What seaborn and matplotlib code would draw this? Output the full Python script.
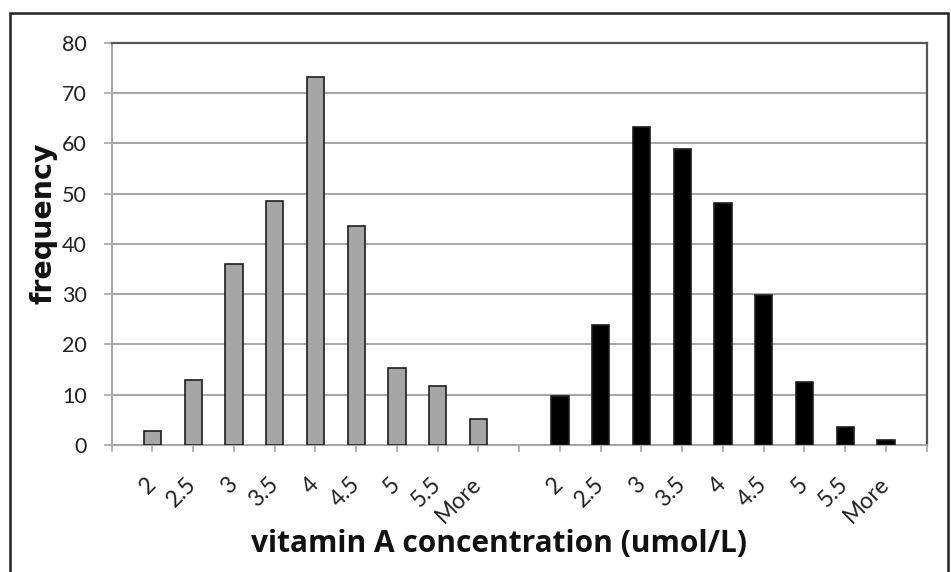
import matplotlib
matplotlib.use("Agg")
import matplotlib.pyplot as plt
import seaborn as sns
import pandas as pd
from matplotlib.patches import Rectangle

# ---- data ----
bins = ["2", "2.5", "3", "3.5", "4", "4.5", "5", "5.5", "More"]
group_a = [2.7, 12.9, 35.9, 48.6, 73.1, 43.6, 15.4, 11.7, 5.2]   # gray
group_b = [9.8, 23.8, 63.2, 58.8, 48.2, 29.9, 12.5, 3.5, 1.0]    # black
group_names = ["A", "B"]
y_ticks = [0, 10, 20, 30, 40, 50, 60, 70, 80]

# positions: empty slot 0, bars 1..9, empty slot 10, bars 11..19, axis end 20
pos_a = list(range(1, 10))
pos_b = list(range(11, 20))
df = pd.DataFrame({
    "pos": pos_a + pos_b,
    "value": group_a + group_b,
    "group": [group_names[0]] * len(group_a) + [group_names[1]] * len(group_b),
})

sns.set_style("white")
plt.rcParams["font.family"] = ["Lato", "DejaVu Sans"]

fig = plt.figure(figsize=(9.51, 5.72), dpi=100)
W, H = 951, 572
ax = fig.add_axes([111.7 / W, (H - 445) / H, 815 / W, 402.3 / H])

grid_c = "#a6a6a6"
sns.barplot(data=df, x="pos", y="value", hue="group", native_scale=True,
            dodge=False, palette={"A": "#a6a6a6", "B": "#000000"},
            width=0.42, edgecolor="#1e1e1e", linewidth=1.2,
            legend=False, ax=ax, zorder=3)

ax.set_xlim(0, 20)
ax.set_ylim(0, 80)
ax.set_yticks(y_ticks)
ax.set_yticklabels([str(v) for v in y_ticks], fontsize=15.5, color="#222222")
ax.yaxis.grid(True, color=grid_c, linewidth=1.4, zorder=0)
ax.set_axisbelow(True)

xt = list(range(0, 21))
xl = [""] + bins + [""] + bins + [""]
ax.set_xticks(xt)
ax.set_xticklabels(xl, fontsize=16.5, color="#222222", rotation=45,
                   ha="right", rotation_mode="anchor", va="center")

ax.tick_params(axis="x", which="major", length=5, width=1.2, color=grid_c,
               pad=21, direction="out", bottom=True)
ax.tick_params(axis="y", which="major", length=6, width=1.2, color=grid_c,
               pad=12, direction="out", left=True)

for side in ["left", "bottom"]:
    ax.spines[side].set_color(grid_c)
    ax.spines[side].set_linewidth(1.4)
for side in ["top", "right"]:
    ax.spines[side].set_visible(True)
    ax.spines[side].set_color("#555555")
    ax.spines[side].set_linewidth(1.6)

ax.set_xlabel("vitamin A concentration (umol/L)", fontsize=21.5, fontweight="bold",
              color="#111111", family="Open Sans")
ax.set_ylabel("frequency", fontsize=20.5, fontweight="bold", color="#111111",
              family="DejaVu Sans")
ax.xaxis.set_label_coords(0.475, -0.21)
ax.yaxis.set_label_coords(-0.066, 0.55)

# outer chart border
fig.patches.append(Rectangle((10 / W, -0.05), (948 - 10) / W, 1.05 - 13 / H,
                             transform=fig.transFigure, fill=False,
                             edgecolor="#222222", linewidth=1.8))

fig.savefig("out.png", dpi=100, facecolor="white")
